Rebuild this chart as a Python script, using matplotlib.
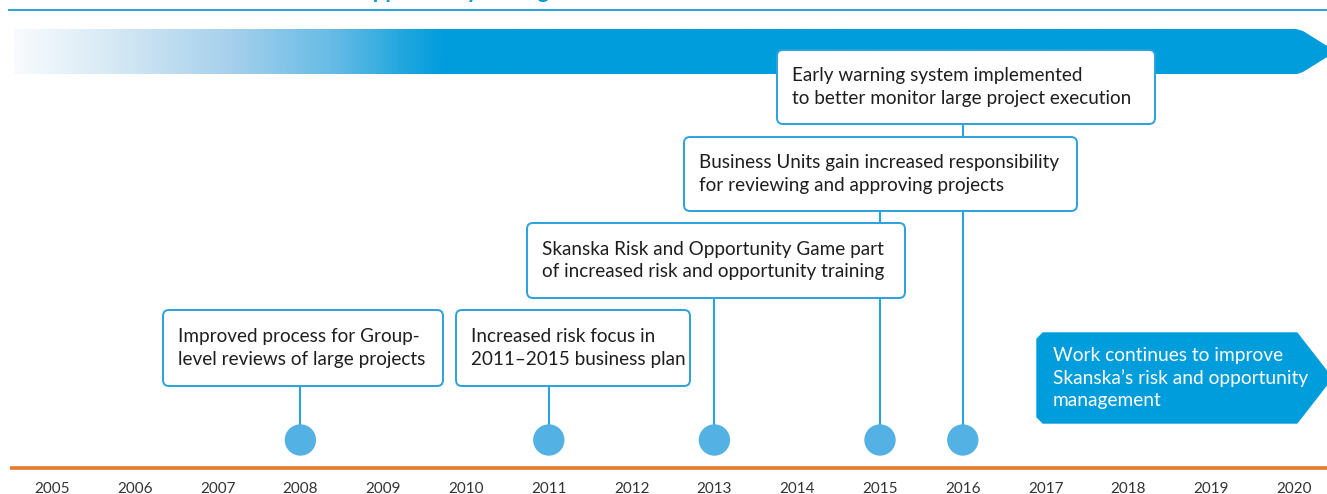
import numpy as np
import matplotlib.pyplot as plt
from matplotlib.patches import FancyBboxPatch, Polygon
from matplotlib.colors import LinearSegmentedColormap

plt.rcParams['font.family'] = ['Lato', 'DejaVu Sans']

# timeline data
years = list(range(2005, 2021))
event_years = [2008, 2011, 2013, 2015, 2016]
event_texts = [
    "Improved process for Group-\nlevel reviews of large projects",
    "Increased risk focus in\n2011\u20132015 business plan",
    "Skanska Risk and Opportunity Game part\nof increased risk and opportunity training",
    "Business Units gain increased responsibility\nfor reviewing and approving projects",
    "Early warning system implemented\nto better monitor large project execution",
]
future_text = "Work continues to improve\nSkanska\u2019s risk and opportunity\nmanagement"
title_text = "opportunity management"

# layout (pixels) for the callout boxes: left, right, top, bottom
box_left = [163, 456, 527, 684, 777]
box_right = [443, 690, 905, 1077, 1155]
box_top = [310, 310, 223, 137, 50]
box_bottom = [386, 386, 298, 211, 124]

W, H = 1327, 494
PX_PER_YEAR = 82.8
X0 = 52  # pixel position of 2005


def yr(px):
    return 2005 + (px - X0) / PX_PER_YEAR


BLUE = "#009ddc"
EDGE = "#2aa2dc"
DOT = "#53b2e3"
ORANGE = "#e8792b"
TXT = "#1e1e1e"

fig = plt.figure(figsize=(W / 100, H / 100), dpi=100)
ax = fig.add_axes([0, 0, 1, 1])
ax.set_xlim(yr(0), yr(W))
ax.set_ylim(H, 0)
ax.axis("off")

# clipped title and rule
ax.text(yr(360), -1.5, title_text, color=BLUE, fontsize=16, fontweight="bold",
        ha="left", va="baseline", clip_on=False)
ax.plot([yr(8), yr(W)], [10.5, 10.5], color=EDGE, lw=1.4, solid_capstyle="butt")

# gradient arrow band
band = Polygon([(yr(14), 29), (yr(1296), 29), (yr(1303), 31), (yr(1336), 51.5),
                (yr(1303), 72), (yr(1296), 74.5), (yr(14), 74.5)],
               closed=True, facecolor="none", edgecolor="none")
ax.add_patch(band)
cmap = LinearSegmentedColormap.from_list(
    "band", [(0, "#f8fbfd"), (0.25, "#d2e7f4"), (0.5, "#a6d0ec"), (0.75, "#62bae5"),
             (0.9, "#22a7de"), (1, BLUE)])
grad = np.linspace(0, 1, 512)
grad = np.clip(grad / (445 - 14) * (1336 - 14), 0, 1)[None, :]
im = ax.imshow(grad, cmap=cmap, aspect="auto", extent=[yr(14), yr(1336), 74.5, 29],
               interpolation="bilinear", zorder=1)
im.set_clip_path(band)
ax.set_xlim(yr(0), yr(W))
ax.set_ylim(H, 0)

# baseline
ax.plot([yr(10), yr(W)], [467.5, 467.5], color=ORANGE, lw=2.6, solid_capstyle="butt")

# connectors and dots
for y, b in zip(event_years, box_bottom):
    ax.plot([y, y], [b, 440], color=EDGE, lw=1.5, zorder=2)
ax.scatter(event_years, [440] * len(event_years), s=510, color=DOT, zorder=3,
           edgecolors="none")

# boxes
r = 6
for l, rt, t, b, txt in zip(box_left, box_right, box_top, box_bottom, event_texts):
    p = FancyBboxPatch((yr(l), t), yr(rt) - yr(l), b - t,
                       boxstyle=f"round,pad=0,rounding_size={r / PX_PER_YEAR}",
                       mutation_aspect=PX_PER_YEAR, facecolor="white",
                       edgecolor=EDGE, lw=1.4, zorder=4)
    ax.add_patch(p)
    ax.text(yr(l + 15), (t + b) / 2, txt, fontsize=13.6, color=TXT, ha="left",
            va="center", linespacing=1.42, zorder=5)

# future arrow box
fut = Polygon([(yr(1043), 333), (yr(1297), 333), (yr(1332), 378), (yr(1297), 423),
               (yr(1043), 423), (yr(1037), 417), (yr(1037), 339)],
              closed=True, facecolor=BLUE, edgecolor=BLUE, lw=1, joinstyle="round", zorder=4)
ax.add_patch(fut)
ax.text(yr(1053), 378, future_text, fontsize=13.8, color="white", ha="left",
        va="center", linespacing=1.38, zorder=5)

# year labels
for y in years:
    ax.text(y, 482, str(y), fontsize=11, color="#333333", ha="center", va="top",
            clip_on=False)

fig.savefig("out.png", dpi=100)
